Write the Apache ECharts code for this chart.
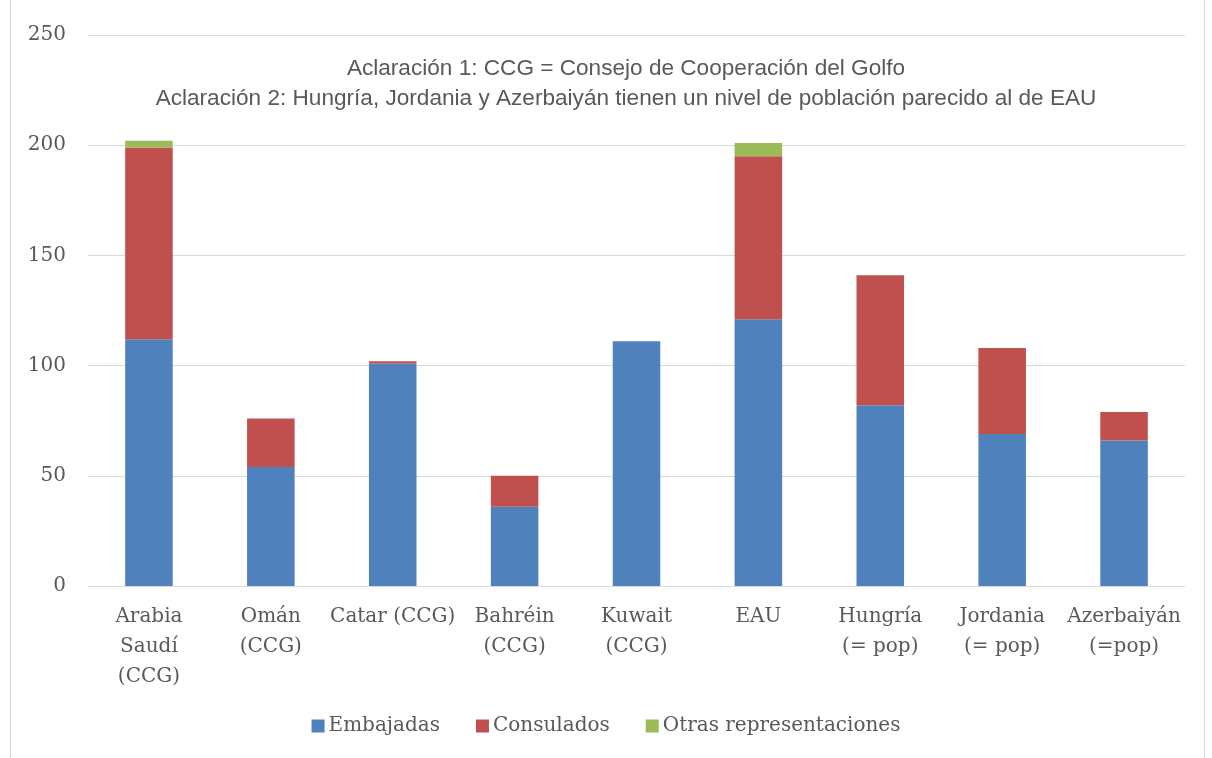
<!DOCTYPE html>
<html><head><meta charset="utf-8">
<script src="https://cdn.jsdelivr.net/npm/echarts@6/dist/echarts.min.js"></script>
<style>html,body{margin:0;padding:0;background:#fff}#c{width:1212px;height:758px}</style>
</head><body><div id="c"></div>
<script>
const categories = ['Arabia\nSaudí\n(CCG)', 'Omán\n(CCG)', 'Catar (CCG)', 'Bahréin\n(CCG)', 'Kuwait\n(CCG)', 'EAU', 'Hungría\n(= pop)', 'Jordania\n(= pop)', 'Azerbaiyán\n(=pop)'];
const embajadas = [112, 54, 101, 36, 111, 121, 82, 69, 66];
const consulados = [87, 22, 1, 14, 0, 74, 59, 39, 13];
const otras = [3, 0, 0, 0, 0, 6, 0, 0, 0];
const titleLines = ['Aclaración 1: CCG = Consejo de Cooperación del Golfo', 'Aclaración 2: Hungría, Jordania y Azerbaiyán tienen un nivel de población parecido al de EAU'];

const chart = echarts.init(document.getElementById('c'));
const serif = 'DejaVu Serif';
chart.setOption({
  animation: false,
  title: {
    text: titleLines.join('\n'),
    left: 621, top: 49, textAlign: 'center',
    textStyle: { fontFamily: 'Liberation Sans', fontSize: 22.6, fontWeight: 'normal', color: '#595959', lineHeight: 30 }
  },
  graphic: [{
    type: 'rect', shape: { x: 10.5, y: -2, width: 1194, height: 770 },
    style: { fill: 'none', stroke: '#d9d9d9', lineWidth: 1 }, silent: true, z: -1
  }],
  legend: {
    bottom: 17, left: 'center', itemWidth: 13, itemHeight: 13, itemGap: 36,
    icon: 'rect',
    textStyle: { fontFamily: serif, fontSize: 20, color: '#595959', padding: [0, 0, 0, -1] },
    data: ['Embajadas', 'Consulados', 'Otras representaciones']
  },
  grid: { left: 88, right: 27, top: 35, bottom: 172 },
  xAxis: {
    type: 'category', data: categories,
    axisTick: { show: false },
    axisLine: { lineStyle: { color: '#d9d9d9' } },
    axisLabel: { interval: 0, fontFamily: serif, fontSize: 20, color: '#595959', lineHeight: 30, margin: 16 }
  },
  yAxis: {
    type: 'value', min: 0, max: 250, interval: 50,
    axisLine: { show: false }, axisTick: { show: false },
    splitLine: { lineStyle: { color: '#d9d9d9' } },
    axisLabel: { fontFamily: serif, fontSize: 20, color: '#595959', margin: 22 }
  },
  series: [
    { name: 'Embajadas', type: 'bar', stack: 't', data: embajadas, barWidth: '39%', itemStyle: { color: '#4f81bd' } },
    { name: 'Consulados', type: 'bar', stack: 't', data: consulados, itemStyle: { color: '#c0504d' } },
    { name: 'Otras representaciones', type: 'bar', stack: 't', data: otras, itemStyle: { color: '#9bbb59' } }
  ]
});
</script></body></html>
